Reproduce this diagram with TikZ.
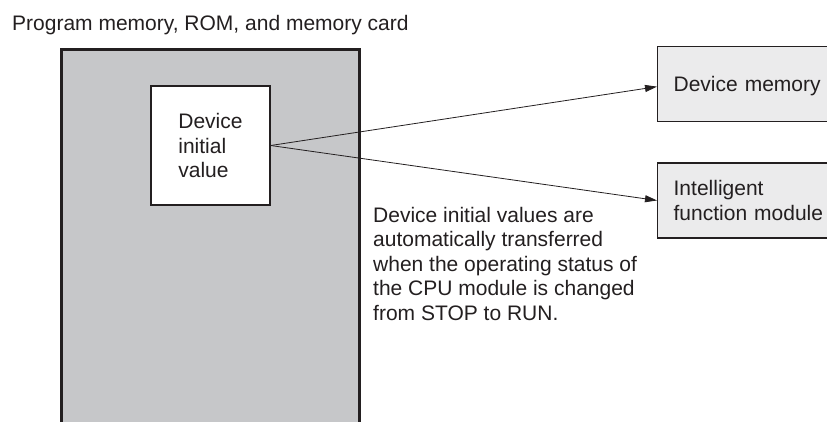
\documentclass[tikz,border=0pt]{standalone}
\usepackage{fontspec}
\setmainfont{Liberation Sans}
\usepackage{tikz}
\usetikzlibrary{arrows.meta,positioning}
\definecolor{memgray}{HTML}{C6C7C9}
\definecolor{devgray}{HTML}{EBEBEC}
\definecolor{ink}{HTML}{231F20}

\begin{document}
\begin{tikzpicture}[x=1pt,y=-1pt,font=\fontsize{21}{24.5}\selectfont,color=ink,node distance=40pt,
  memarea/.style={draw=ink,line width=3pt,fill=memgray,minimum width=298pt,minimum height=400pt,anchor=north},
  valbox/.style={draw=ink,line width=1.3pt,fill=white,align=left,minimum width=119pt,minimum height=119pt},
  devbox/.style={draw=ink,line width=1.3pt,fill=devgray,align=left,anchor=north west,text width=170pt,inner xsep=16pt,minimum height=75pt},
  lbl/.style={align=left,anchor=north west,inner sep=0pt},
  arr/.style={-{Triangle[length=12pt,width=7pt]},line width=0.8pt}]
\clip (0,0) rectangle (827,421);
\node[lbl] (title) at (12,15) {Program memory, ROM, and memory card};
\node[memarea] (mem) at (210.5,48) {};
\node[valbox] (init) at (210.5,145.5) {Device\\initial\\value};
\node[devbox,text depth=0pt] (dmem) at (657,46) {Device memory};
\node[devbox,below=of dmem] (ifm) {Intelligent\\function module};
\draw[arr] (init.east) -- ([yshift=-2.5pt]dmem.west);
\draw[arr] (init.east) -- (ifm.west);
\node[lbl] (note) at (373,207) {Device initial values are\\automatically transferred\\when the operating status of\\the CPU module is changed\\from STOP to RUN.};
\end{tikzpicture}
\end{document}
